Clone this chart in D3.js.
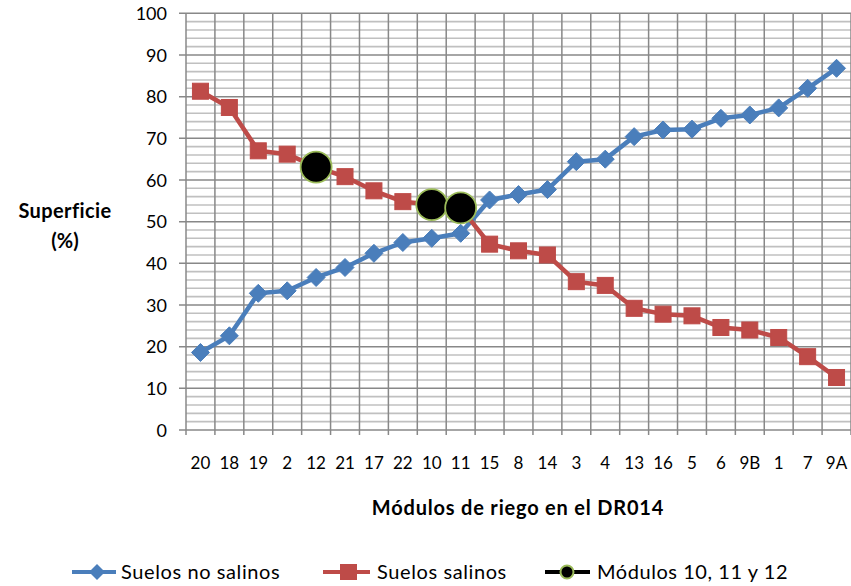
<!DOCTYPE html>
<html>
<head>
<meta charset="utf-8">
<script src="https://cdn.jsdelivr.net/npm/d3@7"></script>
<style>
  html, body { margin: 0; padding: 0; background: #fff; }
  svg { display: block; }
  text { font-family: Lato, "Open Sans", sans-serif; fill: #000; }
</style>
</head>
<body>
<svg id="chart" width="851" height="586"></svg>
<script>
// Módulos de riego, ordered by share of non-saline soil
const modulos = ["20","18","19","2","12","21","17","22","10","11","15","8","14","3","4","13","16","5","6","9B","1","7","9A"];

// Superficie (%) per module
const noSalinos = [18.6,22.6,32.8,33.4,36.6,39.0,42.4,45.0,46.0,47.2,55.2,56.5,57.7,64.4,65.0,70.4,72.0,72.2,74.8,75.6,77.3,82.0,86.8];
const salinos   = [81.3,77.4,67.0,66.2,63.1,60.8,57.4,54.8,54.1,53.3,44.6,43.0,42.0,35.6,34.7,29.2,27.8,27.4,24.6,24.0,22.2,17.6,12.6];

// Highlighted modules
const destacados = ["12","10","11"];

const yTicks = [0,10,20,30,40,50,60,70,80,90,100];
const yMinor = [2,4,6,8,12,14,16,18,22,24,26,28,32,34,36,38,42,44,46,48,52,54,56,58,62,64,66,68,72,74,76,78,82,84,86,88,92,94,96,98];

const seriesNames = ["Suelos no salinos", "Suelos salinos", "Módulos 10, 11 y 12"];
const colors = { azul: "#4A7EBB", rojo: "#BE4B48", verde: "#9BBB59" };

const svg = d3.select("#chart");
const plotL = 186, plotR = 851, plotT = 13.3, plotB = 430;

const x = d3.scaleBand().domain(modulos).range([plotL, plotR]).paddingInner(0).paddingOuter(0);
const y = d3.scaleLinear().domain([0, 100]).range([plotB, plotT]);
const cx = d => x(d) + x.bandwidth() / 2;

const grid = svg.append("g");

// minor horizontal grid
grid.selectAll("line.minor").data(yMinor).join("line")
  .attr("x1", plotL).attr("x2", plotR)
  .attr("y1", d => y(d)).attr("y2", d => y(d))
  .attr("stroke", "#c0c0c0").attr("stroke-width", 1.6);

// vertical grid at category boundaries
const bounds = modulos.map(m => x(m)).concat([plotR]);
grid.selectAll("line.v").data(bounds).join("line")
  .attr("x1", d => d).attr("x2", d => d)
  .attr("y1", plotT).attr("y2", plotB + 5)
  .attr("stroke", "#888").attr("stroke-width", 1.5);

// major horizontal grid + y ticks
grid.selectAll("line.major").data(yTicks).join("line")
  .attr("x1", plotL - 7).attr("x2", plotR)
  .attr("y1", d => y(d)).attr("y2", d => y(d))
  .attr("stroke", "#888").attr("stroke-width", 1.5);

// y axis labels
const yAxis = d3.axisLeft(y).tickValues(yTicks).tickSize(0).tickPadding(0);
const ya = svg.append("g").attr("transform", `translate(${plotL - 19},0)`).call(yAxis);
ya.select(".domain").remove();
ya.selectAll("text").attr("font-size", 18).attr("font-family", "Lato, sans-serif").attr("fill", "#000").attr("dy", "0.35em");

// x axis labels
const xAxis = d3.axisBottom(x).tickSize(0).tickPadding(0);
const xa = svg.append("g").attr("transform", `translate(0,${plotB + 27})`).call(xAxis);
xa.select(".domain").remove();
xa.selectAll("text").attr("font-size", 17).attr("font-family", "Lato, sans-serif").attr("fill", "#000").attr("dy", "0.71em");

// series lines
const line = d3.line().x((d, i) => cx(modulos[i])).y(d => y(d));

svg.append("path").datum(noSalinos).attr("d", line)
  .attr("fill", "none").attr("stroke", colors.azul).attr("stroke-width", 4.5).attr("stroke-linejoin", "round");
svg.append("path").datum(salinos).attr("d", line)
  .attr("fill", "none").attr("stroke", colors.rojo).attr("stroke-width", 4.5).attr("stroke-linejoin", "round");

// diamonds
const dia = 9;
svg.append("g").selectAll("path").data(noSalinos).join("path")
  .attr("d", (d, i) => {
    const px = cx(modulos[i]), py = y(d);
    return `M${px},${py - dia}L${px + dia},${py}L${px},${py + dia}L${px - dia},${py}Z`;
  })
  .attr("fill", colors.azul).attr("stroke", colors.azul).attr("stroke-width", 1);

// squares
const sq = 8;
svg.append("g").selectAll("rect").data(salinos).join("rect")
  .attr("x", (d, i) => cx(modulos[i]) - sq).attr("y", d => y(d) - sq)
  .attr("width", sq * 2).attr("height", sq * 2)
  .attr("fill", colors.rojo).attr("stroke", colors.rojo).attr("stroke-width", 1);

// highlighted modules
svg.append("g").selectAll("circle").data(destacados).join("circle")
  .attr("cx", d => cx(d)).attr("cy", d => y(salinos[modulos.indexOf(d)]))
  .attr("r", 15.5)
  .attr("fill", "#000").attr("stroke", colors.verde).attr("stroke-width", 1.8);

// axis titles
svg.append("text").attr("x", 65).attr("y", 218).attr("text-anchor", "middle")
  .attr("font-size", 20).attr("font-weight", "bold").attr("letter-spacing", 0.4).text("Superficie");
svg.append("text").attr("x", 65).attr("y", 248).attr("text-anchor", "middle")
  .attr("font-size", 20).attr("font-weight", "bold").text("(%)");
svg.append("text").attr("x", 518).attr("y", 515).attr("text-anchor", "middle")
  .attr("font-size", 20).attr("font-weight", "bold").attr("letter-spacing", 0.8).text("Módulos de riego en el DR014");

// legend
const lg = svg.append("g").attr("transform", "translate(0,572)");
lg.append("line").attr("x1", 72).attr("x2", 116).attr("y1", 0).attr("y2", 0)
  .attr("stroke", colors.azul).attr("stroke-width", 4);
lg.append("path").attr("d", "M97,-8L105,0L97,8L89,0Z").attr("fill", colors.azul);
lg.append("text").attr("x", 121).attr("y", 0).attr("dy", "0.35em").attr("font-size", 20).attr("letter-spacing", 0.6).text(seriesNames[0]);

lg.append("line").attr("x1", 323).attr("x2", 370).attr("y1", 0).attr("y2", 0)
  .attr("stroke", colors.rojo).attr("stroke-width", 4);
lg.append("rect").attr("x", 340).attr("y", -8).attr("width", 17).attr("height", 16).attr("fill", colors.rojo);
lg.append("text").attr("x", 377).attr("y", 0).attr("dy", "0.35em").attr("font-size", 20).attr("letter-spacing", 0.6).text(seriesNames[1]);

lg.append("line").attr("x1", 545).attr("x2", 590).attr("y1", 0).attr("y2", 0)
  .attr("stroke", "#000").attr("stroke-width", 4);
lg.append("circle").attr("cx", 567).attr("cy", 0).attr("r", 6.5)
  .attr("fill", "#000").attr("stroke", colors.verde).attr("stroke-width", 2);
lg.append("text").attr("x", 597).attr("y", 0).attr("dy", "0.35em").attr("font-size", 20).attr("letter-spacing", 0.55).text(seriesNames[2]);
</script>
</body>
</html>
